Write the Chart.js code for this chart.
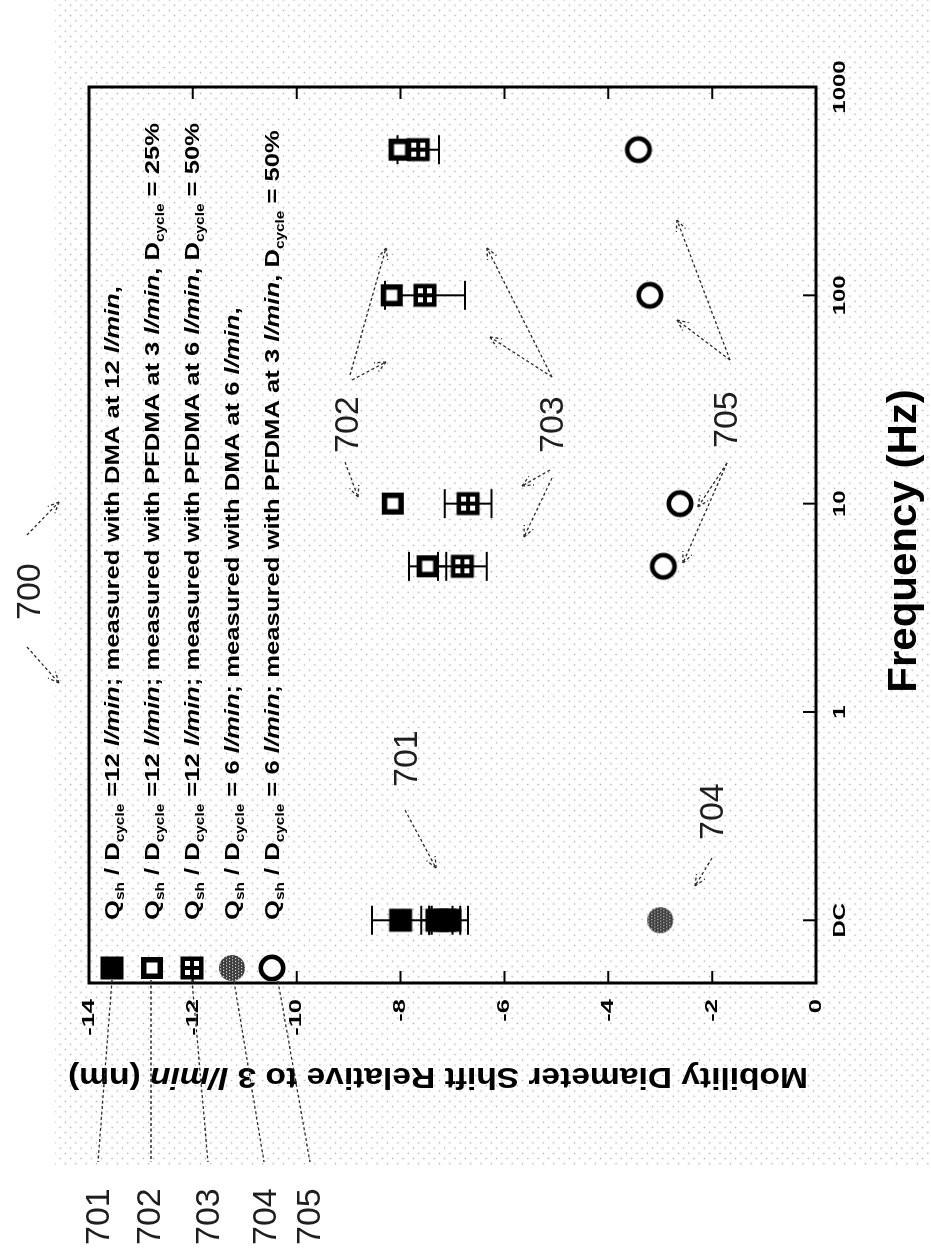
<!DOCTYPE html>
<html>
<head>
<meta charset="utf-8">
<script src="https://cdn.jsdelivr.net/npm/chart.js@4.4.1/dist/chart.umd.min.js"></script>
<style>
  html, body { margin: 0; padding: 0; background: #fff; width: 931px; height: 1257px; overflow: hidden; }
  #dots {
    position: absolute; left: 55px; top: 0; width: 876px; height: 1165px;
    background-image:
      radial-gradient(circle, #b0b0b0 0 0.6px, rgba(255,255,255,0) 1.1px),
      radial-gradient(circle, #b0b0b0 0 0.6px, rgba(255,255,255,0) 1.1px);
    background-size: 10.4px 10.4px, 10.4px 10.4px;
    background-position: 0 0, 5.2px 5.2px;
  }
  /* the figure is laid out landscape and turned a quarter turn onto the portrait sheet */
  #fig {
    position: absolute; left: 0; top: 0; width: 1257px; height: 931px;
    transform-origin: 0 0; transform: translate(0, 1257px) rotate(-90deg);
  }
</style>
</head>
<body>
<div id="dots"></div>
<div id="fig"><canvas id="c" width="1257" height="931"></canvas></div>
<script>
// Frequency axis: steady (DC) operation is plotted one decade below 1 Hz
const freqTicks = [0.1, 1, 10, 100, 1000];
const freqTickLabels = ['DC', '1', '10', '100', '1000'];
const shiftTicks = [-14, -12, -10, -8, -6, -4, -2, 0];

// 701: Qsh/Dcycle = 12 l/min, DMA at 12 l/min
const dma12Freq = [0.1, 0.1, 0.1, 0.1];
const dma12Shift = [-8.0, -7.3, -7.15, -7.05];
const dma12Err = [0.55, 0.3, 0.3, 0.35];

// 702: Qsh/Dcycle = 12 l/min, PFDMA at 3 l/min, 25 %
const pf3Freq = [5, 10, 100, 500];
const pf3Shift = [-7.48, -8.15, -8.17, -8.02];
const pf3Err = [0.36, 0, 0, 0];

// 703: Qsh/Dcycle = 12 l/min, PFDMA at 6 l/min, 50 %
const pf6Freq = [5, 10, 100, 500];
const pf6Shift = [-6.81, -6.7, -7.53, -7.66];
const pf6Err = [0.47, 0.45, 0.77, 0.4];

// 704: Qsh/Dcycle = 6 l/min, DMA at 6 l/min
const dma6Freq = [0.1];
const dma6Shift = [-3.0];
const dma6Err = [0];

// 705: Qsh/Dcycle = 6 l/min, PFDMA at 3 l/min, 50 %
const pf3of6Freq = [5, 10, 100, 500];
const pf3of6Shift = [-2.94, -2.62, -3.2, -3.42];
const pf3of6Err = [0, 0, 0, 0];

const FAM = '"Liberation Sans", Arial, sans-serif';

// ---- marker glyphs ----
function makeMarker(kind) {
  const c = document.createElement('canvas');
  c.width = 30; c.height = 30;
  const g = c.getContext('2d');
  const m = 15;
  g.fillStyle = '#000';
  if (kind === 'filled') {
    g.fillRect(m - 11.5, m - 11.5, 23, 23);
  } else if (kind === 'open') {
    g.fillRect(m - 11, m - 11, 22, 22);
    g.fillStyle = '#fff';
    g.fillRect(m - 5.5, m - 5.5, 11, 11);
  } else if (kind === 'grid') {
    const x0 = m - 11.5;
    g.fillRect(x0, x0, 23, 23);
    g.fillStyle = '#fff';
    [4.5, 13.5].forEach(a => [4.5, 13.5].forEach(b => g.fillRect(x0 + a, x0 + b, 5, 5)));
  } else if (kind === 'shaded') {
    g.save();
    g.beginPath(); g.arc(m, m, 13, 0, Math.PI * 2); g.closePath();
    g.fillStyle = '#3c3c3c'; g.fill();
    g.clip();
    g.fillStyle = '#d8d8d8';
    for (let yy = 0; yy < 30; yy += 3) {
      for (let xx = (yy / 3) % 2 ? 1.5 : 0; xx < 30; xx += 3) g.fillRect(xx, yy, 1.2, 1.2);
    }
    g.restore();
  } else if (kind === 'ring') {
    g.beginPath(); g.arc(m, m, 13.5, 0, Math.PI * 2);
    g.fillStyle = '#fff'; g.fill();
    g.beginPath(); g.arc(m, m, 11.2, 0, Math.PI * 2);
    g.lineWidth = 4.6; g.strokeStyle = '#000'; g.stroke();
  }
  return c;
}

const markers = {
  filled: makeMarker('filled'),
  open: makeMarker('open'),
  grid: makeMarker('grid'),
  shaded: makeMarker('shaded'),
  ring: makeMarker('ring')
};

const series = [
  { label: 'Qsh / Dcycle =12 l/min; measured with DMA at 12 l/min,', freq: dma12Freq, shift: dma12Shift, err: dma12Err, marker: 'filled' },
  { label: 'Qsh / Dcycle =12 l/min; measured with PFDMA at 3 l/min, Dcycle = 25%', freq: pf3Freq, shift: pf3Shift, err: pf3Err, marker: 'open' },
  { label: 'Qsh / Dcycle =12 l/min; measured with PFDMA at 6 l/min, Dcycle = 50%', freq: pf6Freq, shift: pf6Shift, err: pf6Err, marker: 'grid' },
  { label: 'Qsh / Dcycle = 6 l/min; measured with DMA at 6 l/min,', freq: dma6Freq, shift: dma6Shift, err: dma6Err, marker: 'shaded' },
  { label: 'Qsh / Dcycle = 6 l/min; measured with PFDMA at 3 l/min, Dcycle = 50%', freq: pf3of6Freq, shift: pf3of6Shift, err: pf3of6Err, marker: 'ring' }
];

// legend rows: n = bold, i = bold italic, s = subscript
const legendParts = [
  [['Q','n'],['sh','s'],[' / D','n'],['cycle','s'],[' =12 ','n'],['l/min','i'],['; measured with DMA at 12 ','n'],['l/min','i'],[',','n']],
  [['Q','n'],['sh','s'],[' / D','n'],['cycle','s'],[' =12 ','n'],['l/min','i'],['; measured with PFDMA at 3 ','n'],['l/min','i'],[', D','n'],['cycle','s'],[' = 25%','n']],
  [['Q','n'],['sh','s'],[' / D','n'],['cycle','s'],[' =12 ','n'],['l/min','i'],['; measured with PFDMA at 6 ','n'],['l/min','i'],[', D','n'],['cycle','s'],[' = 50%','n']],
  [['Q','n'],['sh','s'],[' / D','n'],['cycle','s'],[' = 6 ','n'],['l/min','i'],['; measured with DMA at 6 ','n'],['l/min','i'],[',','n']],
  [['Q','n'],['sh','s'],[' / D','n'],['cycle','s'],[' = 6 ','n'],['l/min','i'],['; measured with PFDMA at 3 ','n'],['l/min','i'],[', D','n'],['cycle','s'],[' = 50%','n']]
];

// reference numerals and their leader arrows
const numerals = [
  ['700', 637, 30], ['701', 470, 407], ['702', 804, 348], ['703', 804, 553],
  ['704', 417, 713], ['705', 809, 727],
  ['701', 12, 99], ['702', 12, 150], ['703', 12, 209], ['704', 12, 266], ['705', 12, 310]
];
const arrows = [
  [722, 27, 755, 59], [610, 27, 574, 59],
  [447, 405, 389, 436],
  [399, 712, 371, 695],
  [882, 350, 1009, 386], [877, 352, 895, 386], [795, 345, 760, 358],
  [880, 552, 1009, 487], [880, 552, 920, 490], [787, 550, 771, 522], [779, 552, 720, 524],
  [897, 730, 1037, 677], [897, 730, 937, 677], [794, 727, 694, 683], [794, 727, 750, 698]
];
const leaders = [
  [277, 112, 95, 98], [277, 151, 95, 151], [277, 192, 95, 208], [276, 234, 95, 264], [276, 278, 95, 310]
];

function stretched(ctx, text, x, y, font, sx, align, base) {
  ctx.save();
  ctx.font = font;
  ctx.translate(x, y);
  ctx.scale(sx, 1);
  ctx.textAlign = align;
  ctx.textBaseline = base || 'middle';
  ctx.fillText(text, 0, 0);
  ctx.restore();
}

const fonts = { n: 'bold 20px ' + FAM, i: 'italic bold 20px ' + FAM, s: 'bold 12px ' + FAM };

function partsWidth(ctx, parts) {
  let w = 0;
  parts.forEach(([t, k]) => { ctx.font = fonts[k]; w += ctx.measureText(t).width; });
  return w;
}

const framePlugin = {
  id: 'frame',
  beforeDatasetsDraw(chart) {
    const { ctx, chartArea: a } = chart;
    const xs = chart.scales.x, ys = chart.scales.y;
    ctx.save();
    ctx.fillStyle = '#000';
    ctx.strokeStyle = '#000';
    // inward ticks
    ctx.lineWidth = 2;
    shiftTicks.forEach(t => {
      if (t === -14 || t === 0) return;
      const p = ys.getPixelForValue(t);
      ctx.beginPath();
      ctx.moveTo(a.left, p); ctx.lineTo(a.left + 12, p);
      ctx.moveTo(a.right, p); ctx.lineTo(a.right - 12, p);
      ctx.stroke();
    });
    freqTicks.forEach(t => {
      const p = xs.getPixelForValue(t);
      if (p >= a.right - 1) return;
      ctx.beginPath();
      ctx.moveTo(p, a.bottom); ctx.lineTo(p, a.bottom - 13);
      ctx.stroke();
    });
    // frame
    ctx.lineWidth = 3;
    ctx.strokeRect(a.left, a.top, a.right - a.left, a.bottom - a.top);

    // tick labels
    shiftTicks.forEach(t => {
      stretched(ctx, String(t), a.left - 16, ys.getPixelForValue(t), 'bold 17px ' + FAM, 1.5, 'right');
    });
    freqTicks.forEach((t, i) => {
      stretched(ctx, freqTickLabels[i], xs.getPixelForValue(t), a.bottom + 25, 'bold 16px ' + FAM, 1.5, 'center');
    });

    // axis titles
    ctx.font = 'bold 40px ' + FAM;
    const xt = 'Frequency (Hz)';
    const xw = ctx.measureText(xt).width;
    stretched(ctx, xt, (a.left + a.right) / 2 - 6, a.bottom + 89, 'bold 41px ' + FAM, 296 / xw, 'center');

    const yParts = [['Mobility Diameter Shift Relative to 3 ', 'bold 29px ' + FAM], ['l/min', 'italic bold 29px ' + FAM], [' (nm)', 'bold 29px ' + FAM]];
    let yw = 0;
    yParts.forEach(([t, f]) => { ctx.font = f; yw += ctx.measureText(t).width; });
    const ysx = 740 / yw;
    ctx.save();
    ctx.translate(181, 438);
    ctx.rotate(-Math.PI / 2);
    ctx.scale(ysx, 1);
    ctx.textBaseline = 'middle';
    ctx.textAlign = 'left';
    let cx = -yw / 2;
    yParts.forEach(([t, f]) => { ctx.font = f; ctx.fillText(t, cx, 0); cx += ctx.measureText(t).width; });
    ctx.restore();

    // error bars
    ctx.lineWidth = 2;
    series.forEach(s => {
      s.freq.forEach((f, i) => {
        const e = s.err[i];
        if (!e) return;
        const px = xs.getPixelForValue(f);
        const lo = ys.getPixelForValue(s.shift[i] - e);
        const hi = ys.getPixelForValue(s.shift[i] + e);
        ctx.beginPath();
        ctx.moveTo(px, lo); ctx.lineTo(px, hi);
        ctx.moveTo(px - 14.5, lo); ctx.lineTo(px + 14.5, lo);
        ctx.moveTo(px - 14.5, hi); ctx.lineTo(px + 14.5, hi);
        ctx.stroke();
      });
    });
    ctx.restore();
  },
  afterDraw(chart) {
    const { ctx } = chart;
    ctx.save();
    // leader lines from the legend keys to the numerals below
    ctx.strokeStyle = '#2a2a2a';
    ctx.lineWidth = 1.3;
    ctx.setLineDash([3, 2.5]);
    leaders.forEach(([u1, v1, u2, v2]) => {
      ctx.beginPath(); ctx.moveTo(u1, v1); ctx.lineTo(u2, v2); ctx.stroke();
    });
    ctx.setLineDash([]);

    // legend
    const w2 = partsWidth(ctx, legendParts[1]);
    const sx = 797 / w2;
    legendParts.forEach((parts, r) => {
      const v = 112 + r * 40;
      const mk = markers[series[r].marker];
      ctx.drawImage(mk, 289 - mk.width / 2, v - mk.height / 2);
      ctx.save();
      ctx.translate(337, v + 7);
      ctx.scale(sx, 1);
      ctx.fillStyle = '#000';
      ctx.textAlign = 'left';
      ctx.textBaseline = 'alphabetic';
      let x = 0;
      parts.forEach(([t, k]) => {
        ctx.font = fonts[k];
        ctx.fillText(t, x, k === 's' ? 5 : 0);
        x += ctx.measureText(t).width;
      });
      ctx.restore();
    });

    // reference numerals
    ctx.fillStyle = '#1e1e1e';
    ctx.font = '34px ' + FAM;
    ctx.textAlign = 'left';
    ctx.textBaseline = 'middle';
    numerals.forEach(([t, u, v]) => ctx.fillText(t, u, v + 1));

    ctx.strokeStyle = '#2a2a2a';
    ctx.lineWidth = 1.3;
    ctx.setLineDash([3, 2.5]);
    arrows.forEach(([u1, v1, u2, v2]) => {
      ctx.beginPath(); ctx.moveTo(u1, v1); ctx.lineTo(u2, v2); ctx.stroke();
      const ang = Math.atan2(v2 - v1, u2 - u1);
      ctx.beginPath();
      [0.42, -0.42].forEach(d => {
        ctx.moveTo(u2, v2);
        ctx.lineTo(u2 - 12 * Math.cos(ang + d), v2 - 12 * Math.sin(ang + d));
      });
      ctx.stroke();
    });
    ctx.restore();
  }
};

new Chart(document.getElementById('c'), {
  type: 'scatter',
  data: {
    datasets: series.map(s => ({
      label: s.label,
      data: s.freq.map((f, i) => ({ x: f, y: s.shift[i] })),
      pointStyle: markers[s.marker],
      pointRadius: 12,
      pointHoverRadius: 12,
      showLine: false
    }))
  },
  options: {
    responsive: false,
    devicePixelRatio: 1,
    animation: false,
    events: [],
    layout: { padding: { left: 274, right: 87, top: 89, bottom: 115 } },
    plugins: { legend: { display: false }, tooltip: { enabled: false } },
    scales: {
      x: { type: 'logarithmic', min: 0.05, max: 1000, display: false },
      y: { type: 'linear', min: -14, max: 0, reverse: true, display: false }
    }
  },
  plugins: [framePlugin]
});
</script>
</body>
</html>
